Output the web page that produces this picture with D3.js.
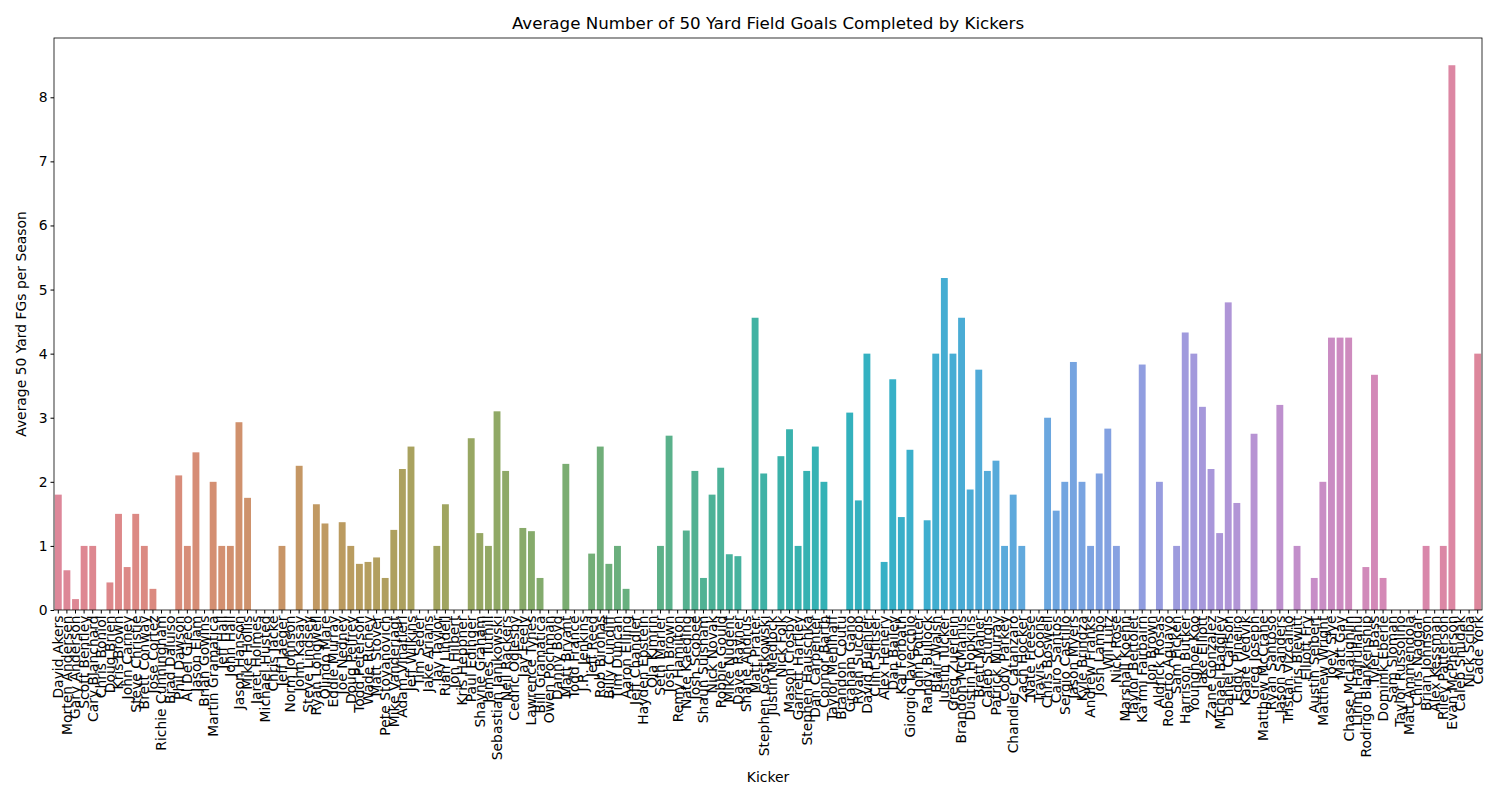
<!DOCTYPE html>
<html>
<head>
<meta charset="utf-8">
<script src="https://cdn.jsdelivr.net/npm/d3@7"></script>
<style>
  body { margin: 0; background: #fff; }
  text { font-family: "DejaVu Sans", sans-serif; }
</style>
</head>
<body>
<svg></svg>
<script>
let width = 1500, height = 800;
let svg = d3.select("svg").attr("width", width).attr("height", height);

// Data
const kickers = ["David Akers","Morten Andersen","Gary Anderson","Scott Bentley","Cary Blanchard","Chris Boniol","Doug Brien","Kris Brown","John Carney","Steve Christie","Brett Conway","Jose Cortez","Richie Cunningham","Brad Daluiso","Phil Dawson","Al Del Greco","Jason Elam","Brian Gowins","Martin Gramatica","Jeff Hall","John Hall","Jason Hanson","Mike Hollis","Jaret Holmes","Michael Husted","Chris Jacke","Jeff Jaeger","Norm Johnson","John Kasay","Steve Lindsey","Ryan Longwell","Olindo Mare","Eddie Murray","Joe Nedney","Doug Pelfrey","Todd Peterson","Wade Richey","Matt Stover","Pete Stoyanovich","Mike Vanderjagt","Adam Vinatieri","Jeff Wilkins","Tim Seder","Jake Arians","Jay Taylor","Rian Lindell","Jon Hilbert","Kris Heppner","Paul Edinger","Shayne Graham","James Tuthill","Sebastian Janikowski","Neil Rackers","Cedric Oglesby","Jay Feely","Lawrence Tynes","Bill Gramatica","Owen Pochman","Danny Boyd","Matt Bryant","Todd France","J.R. Jenkins","Jeff Reed","Rob Bironas","Billy Cundiff","Tim Duncan","Aaron Elling","Jeff Chandler","Hayden Epstein","Ola Kimrin","Seth Marler","Josh Brown","Remy Hamilton","Nate Kaeding","Josh Scobee","Shaun Suisham","Nick Novak","Robbie Gould","Mike Nugent","Dave Rayner","Shane Andrus","Matt Prater","Stephen Gostkowski","Justin Medlock","Nick Folk","Mason Crosby","Garrett Hartley","Stephen Hauschka","Dan Carpenter","Connor Barth","Taylor Mehlhaff","Brandon Coutu","Graham Gano","Ryan Succop","David Buehler","Clint Stitser","Alex Henery","Dan Bailey","Kai Forbath","Giorgio Tavecchio","John Potter","Randy Bullock","Blair Walsh","Justin Tucker","Greg Zuerlein","Brandon McManus","Dustin Hopkins","Brett Maher","Caleb Sturgis","Patrick Murray","Cody Parkey","Chandler Catanzaro","Zach Hocker","Nate Freese","Travis Coons","Chris Boswell","Cairo Santos","Sergio Castillo","Jason Myers","Kyle Brindza","Andrew Franks","Josh Lambo","Wil Lutz","Nick Rose","Marshall Koehn","Taylor Bertolet","Ka'imi Fairbairn","Jon Brown","Aldrick Rosas","Roberto Aguayo","Sam Ficken","Harrison Butker","Younghoe Koo","Jake Elliott","Zane Gonzalez","Michael Badgley","Daniel Carlson","Eddy Pineiro","Kaare Vedvik","Greg Joseph","Matthew McCrane","Ryan Santoso","Jason Sanders","Tristan Vizcaino","Chris Blewitt","Elliott Fry","Austin Seibert","Matthew Wright","Joey Slye","Matt Gay","Chase McLaughlin","Lirim Hajrullahu","Rodrigo Blankenship","Tyler Bass","Dominik Eberle","Sam Sloman","Taylor Russolino","Matt Ammendola","Chris Naggar","Brian Johnson","Alex Kessman","Riley Patterson","Evan McPherson","Caleb Shudak","Nick Sciba","Cade York"];

const avgFGs = [1.8,0.62,0.17,1,1,0,0.43,1.5,0.67,1.5,1,0.33,0,0,2.1,1,2.46,0,2,1,1,2.93,1.75,0,0,0,1,0,2.25,0,1.65,1.35,0,1.37,1,0.72,0.75,0.82,0.5,1.25,2.2,2.55,0,0,1,1.65,0,0,2.68,1.2,1,3.1,2.17,0,1.28,1.23,0.5,0,0,2.28,0,0,0.88,2.55,0.72,1,0.33,0,0,0,1,2.72,0,1.24,2.17,0.5,1.8,2.22,0.87,0.84,0,4.56,2.13,0,2.4,2.82,1,2.17,2.55,2,0,0,3.08,1.71,4,0,0.75,3.6,1.45,2.5,0,1.4,4,5.18,4,4.56,1.88,3.75,2.17,2.33,1,1.8,1,0,0,3,1.55,2,3.87,2,1,2.13,2.83,1,0,0,3.83,0,2,0,1,4.33,4,3.17,2.2,1.2,4.8,1.67,0,2.75,0,0,3.2,0,1,0,0.5,2,4.25,4.25,4.25,0,0.67,3.67,0.5,0,0,0,0,1,0,1,8.5,0,0,4];

const yTicks = [0,1,2,3,4,5,6,7,8];

let margin = {left: 54, right: 18, top: 38, bottom: 190};
let x = d3.scaleBand().domain(kickers).range([margin.left, width - margin.right]).paddingInner(0.2).paddingOuter(0.1);
let y = d3.scaleLinear().domain([0, 8.925]).range([height - margin.bottom, margin.top]);

// seaborn-like husl palette, approximated in HCL (softer chroma)
let color = (i) => d3.hcl(8 + 360 * i / kickers.length, 36, 66).toString();

svg.append("g")
  .selectAll("rect")
  .data(kickers)
  .enter()
  .append("rect")
    .attr("x", d => x(d))
    .attr("width", x.bandwidth())
    .attr("y", (d, i) => y(avgFGs[i]))
    .attr("height", (d, i) => y(0) - y(avgFGs[i]))
    .attr("fill", (d, i) => color(i));

// axes
let xAxis = svg.append("g")
  .attr("transform", "translate(0," + y(0) + ")")
  .call(d3.axisBottom(x).tickSize(3.5).tickSizeOuter(0));
xAxis.selectAll("text")
  .attr("transform", "rotate(-90)")
  .attr("text-anchor", "end")
  .attr("x", -5.5)
  .attr("y", 0)
  .attr("dy", "0.35em")
  .style("font-size", "13.9px");

let yAxis = svg.append("g")
  .attr("transform", "translate(" + margin.left + ",0)")
  .call(d3.axisLeft(y).tickValues(yTicks).tickSize(3.5).tickSizeOuter(0));
yAxis.selectAll("text").style("font-size", "13.9px");

svg.selectAll(".domain").remove();
svg.append("rect")
  .attr("x", margin.left).attr("y", margin.top)
  .attr("width", width - margin.left - margin.right)
  .attr("height", y(0) - margin.top)
  .attr("fill", "none").attr("stroke", "#000").attr("stroke-width", 0.8);

svg.append("text")
  .attr("x", (margin.left + width - margin.right) / 2)
  .attr("y", 29)
  .attr("text-anchor", "middle")
  .style("font-size", "16.7px")
  .text("Average Number of 50 Yard Field Goals Completed by Kickers");

svg.append("text")
  .attr("x", (margin.left + width - margin.right) / 2)
  .attr("y", 782)
  .attr("text-anchor", "middle")
  .style("font-size", "13.9px")
  .text("Kicker");

svg.append("text")
  .attr("transform", "translate(26," + ((margin.top + y(0)) / 2) + ") rotate(-90)")
  .attr("text-anchor", "middle")
  .style("font-size", "13.9px")
  .text("Average 50 Yard FGs per Season");
</script>
</body>
</html>
